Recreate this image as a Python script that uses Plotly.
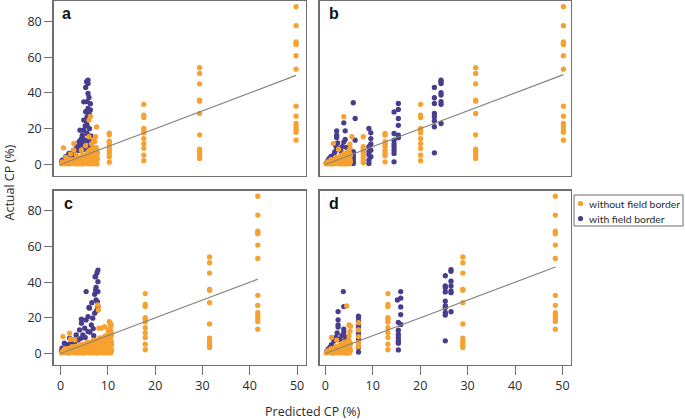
import plotly.graph_objects as go

# ---------------- data ----------------
panels = ["a", "b", "c", "d"]

# Actual CP (%) of the three high-value groups "without field border" (same in every panel)
top_actual = [88.2, 77.6, 68.6, 67.7, 67.1, 60.8, 53.3, 32.6, 27.0, 22.9, 21.1, 19.4, 18.0, 13.6]
mid_actual = [54.1, 50.9, 45.1, 35.9, 35.4, 28.5, 16.6, 8.6, 7.1, 5.8, 4.3, 3.4]
low_actual = [33.6, 27.6, 26.3, 20.1, 19.2, 17.7, 14.5, 11.7, 9.0, 5.2, 2.1]
# Predicted CP (%) of those groups in panels a, b, c, d
top_pred = [49.8, 50.2, 41.7, 48.5]
mid_pred = [29.4, 31.7, 31.5, 29.0]
low_pred = [17.6, 20.1, 17.9, 13.2]

# Remaining points: (predicted, actual)
a_without = [
    (0.2, 0.3), (0.9, 0.4), (1.7, 0.2), (2.4, 0.5), (3.2, 0.3), (4.0, 0.4), (4.7, 0.2), (5.5, 0.5), (6.3, 0.3), (7.0, 0.4), (7.7, 0.3),
    (0.4, 1.5), (1.2, 1.6), (2.0, 1.4), (2.8, 1.7), (3.6, 1.5), (4.4, 1.3), (5.1, 1.6), (5.9, 1.5), (6.7, 1.4), (7.5, 1.7),
    (1.9, 2.8), (2.7, 2.7), (3.5, 2.9), (4.2, 2.8), (5.0, 2.6), (5.8, 2.9), (6.5, 2.8), (7.3, 2.7), (7.8, 3.0),
    (3.6, 4.1), (4.4, 4.0), (5.1, 4.2), (5.9, 4.1), (6.6, 3.9), (7.3, 4.2),
    (4.7, 5.4), (5.5, 5.3), (6.2, 5.5), (7.0, 5.4), (7.7, 5.2),
    (5.7, 6.7), (6.4, 6.6), (7.1, 6.8), (7.8, 6.5),
    (6.2, 8.0), (6.9, 7.9), (7.6, 8.2), (6.8, 9.3), (7.5, 9.4),
    (0.6, 9.3), (2.8, 11.7), (2.8, 8.0), (2.1, 5.8), (1.1, 3.9), (3.3, 5.4), (4.4, 8.0), (5.3, 10.5),
    (6.6, 11.6), (7.2, 12.8), (7.0, 13.8), (6.0, 15.5), (7.4, 15.5), (6.0, 24.8), (6.3, 26.9), (7.6, 21.0),
    (10.3, 17.5), (10.3, 16.6), (10.3, 13.0), (10.3, 12.1), (10.3, 10.8), (10.3, 9.0), (10.3, 7.4),
    (10.3, 6.0), (10.3, 4.3), (10.3, 1.3),
]
a_with = [
    (0.35, 2.4), (0.2, 1.0), (0.6, 1.8), (0.9, 3.0), (1.1, 4.3), (1.4, 3.5), (1.6, 5.2), (1.8, 6.2), (2.1, 4.8),
    (2.4, 6.0), (2.6, 7.0), (2.8, 8.0), (3.1, 6.5), (3.3, 8.8), (3.5, 9.9), (3.7, 7.8), (3.9, 12.7), (4.1, 10.8),
    (4.3, 14.0), (4.6, 15.5), (4.9, 11.7), (4.6, 11.4), (4.1, 19.2), (4.9, 19.2), (4.9, 24.8), (4.6, 16.4),
    (5.2, 21.5), (5.6, 22.0), (5.6, 17.3), (5.3, 13.6), (5.6, 26.7), (5.3, 29.5), (4.9, 35.0), (6.3, 34.0),
    (5.6, 35.1), (5.8, 31.3), (6.0, 37.5), (5.8, 39.7), (5.3, 43.1), (5.8, 45.3), (5.5, 46.3), (5.8, 47.2),
    (6.1, 20.0), (6.0, 13.0), (5.9, 10.0), (6.4, 16.0), (5.0, 8.5), (4.2, 8.0), (3.0, 5.0), (6.3, 30.5),
    (6.1, 28.0), (5.5, 24.0),
]
b_without = [
    (0.2, 0.3), (0.9, 0.4), (1.6, 0.2), (2.3, 0.5), (3.0, 0.3), (3.7, 0.4), (4.4, 0.2), (5.1, 0.4),
    (0.5, 1.5), (1.2, 1.6), (1.9, 1.4), (2.6, 1.7), (3.3, 1.5), (4.0, 1.3), (4.7, 1.6), (5.3, 1.5),
    (1.2, 2.7), (1.9, 2.8), (2.6, 2.6), (3.3, 2.9), (4.0, 2.7), (4.7, 2.8), (5.2, 2.9),
    (2.2, 3.9), (2.9, 4.0), (3.6, 3.8), (4.3, 4.1), (5.0, 3.9),
    (3.2, 5.1), (3.9, 5.2), (4.6, 5.0), (5.3, 5.2), (4.0, 6.3), (4.7, 6.4), (5.2, 6.2), (4.9, 7.5),
    (3.9, 26.7), (5.2, 11.4), (5.2, 9.0), (5.6, 15.5), (1.7, 11.7), (2.8, 8.5),
    (8.0, 15.5), (8.0, 9.9), (8.0, 8.6), (8.0, 7.1), (8.0, 5.8), (8.0, 4.3), (8.0, 2.4), (8.0, 0.9),
    (12.6, 17.3), (12.6, 16.4), (12.6, 12.7), (12.6, 11.4), (12.6, 9.9), (12.6, 8.0), (12.6, 6.2),
    (12.6, 4.9), (12.6, 1.5),
]
b_with = [
    (0.2, 0.8), (0.5, 2.0), (0.8, 3.2), (1.0, 1.5), (1.2, 4.5), (1.5, 3.0), (1.8, 5.5), (2.0, 7.0), (2.4, 8.5),
    (2.4, 15.1), (2.4, 16.4), (2.4, 18.8), (2.2, 10.5), (2.6, 12.0), (3.0, 9.0), (3.3, 7.5), (3.6, 10.0),
    (3.9, 23.3), (4.2, 18.8), (4.2, 14.0), (3.9, 12.5), (4.5, 9.5), (5.9, 34.5), (6.3, 25.7), (6.3, 13.6),
    (5.9, 7.1), (5.9, 5.8), (5.9, 4.3), (5.9, 2.8), (5.9, 1.5), (5.9, 0.6),
    (9.2, 20.1), (9.6, 17.7), (9.6, 14.5), (9.6, 11.5), (9.2, 9.9), (9.6, 8.0), (9.2, 7.1), (9.2, 5.5),
    (9.6, 4.3), (9.2, 2.5), (9.2, 0.6),
    (14.5, 29.4), (15.4, 34.1), (15.4, 30.8), (15.4, 25.7), (15.4, 21.9), (14.5, 17.3), (15.4, 16.4),
    (15.4, 15.0), (14.5, 13.6), (14.5, 11.5), (14.5, 9.9), (14.5, 8.0), (14.5, 6.2), (14.5, 1.5),
    (23.0, 43.1), (23.0, 37.3), (23.0, 34.1), (23.0, 28.5), (23.0, 26.7), (23.0, 24.4), (23.0, 21.1),
    (23.0, 6.5), (24.4, 47.2), (24.4, 46.3), (24.4, 45.3), (24.4, 40.1), (24.4, 38.8), (24.4, 35.1),
    (24.4, 33.6), (24.4, 22.9),
]
c_without = [
    (0.2, 0.3), (0.9, 0.4), (1.7, 0.2), (2.4, 0.5), (3.2, 0.3), (3.9, 0.4), (4.7, 0.2), (5.4, 0.5),
    (6.2, 0.3), (6.9, 0.4), (7.7, 0.2), (8.4, 0.5), (9.2, 0.3), (9.9, 0.4), (10.6, 0.3),
    (0.5, 1.5), (1.2, 1.6), (2.0, 1.4), (2.7, 1.7), (3.5, 1.5), (4.2, 1.3), (5.0, 1.6), (5.7, 1.5),
    (6.5, 1.4), (7.2, 1.7), (8.0, 1.5), (8.7, 1.4), (9.5, 1.6), (10.2, 1.5), (10.8, 1.7),
    (0.9, 2.7), (1.7, 2.8), (2.4, 2.6), (3.2, 2.9), (3.9, 2.7), (4.7, 2.8), (5.4, 2.6), (6.2, 2.9),
    (6.9, 2.7), (7.7, 2.8), (8.4, 2.6), (9.2, 2.9), (9.9, 2.7), (10.6, 2.8),
    (2.4, 3.9), (3.2, 4.0), (3.9, 3.8), (4.7, 4.1), (5.4, 3.9), (6.2, 4.0), (6.9, 3.8), (7.7, 4.1),
    (8.4, 3.9), (9.2, 4.0), (9.9, 3.8), (10.6, 4.1),
    (4.2, 5.1), (5.0, 5.2), (5.7, 5.0), (6.5, 5.2), (7.2, 5.1), (8.0, 5.0), (8.7, 5.2), (9.5, 5.1),
    (10.2, 5.0), (10.8, 5.2),
    (5.7, 6.3), (6.5, 6.4), (7.2, 6.2), (8.0, 6.3), (8.7, 6.4), (9.5, 6.2), (10.2, 6.3), (10.7, 6.5),
    (7.0, 7.5), (7.8, 7.6), (8.5, 7.4), (9.3, 7.5), (10.0, 7.6), (10.6, 7.4),
    (8.3, 8.7), (9.1, 8.8), (9.8, 8.6), (10.5, 8.7), (9.4, 9.9), (10.1, 10.0), (10.7, 9.8),
    (10.2, 11.0), (10.8, 11.1),
    (0.5, 9.5), (1.9, 11.4), (2.1, 8.0), (3.0, 7.6), (10.3, 17.9), (10.7, 16.0), (9.3, 15.1), (10.0, 13.2),
    (8.6, 14.2), (8.1, 14.2), (7.9, 27.2), (8.0, 24.4), (10.5, 14.5), (10.6, 12.5), (10.4, 17.3),
    (10.6, 16.6),
]
c_with = [
    (7.9, 46.8), (7.7, 45.3), (7.3, 43.1), (7.9, 40.3), (7.5, 37.1), (7.9, 34.7), (7.2, 33.2), (5.4, 34.7),
    (7.5, 30.0), (6.1, 25.4), (7.9, 26.3), (7.2, 22.6), (5.8, 20.7), (4.4, 17.0), (6.5, 16.0), (5.1, 14.2),
    (5.8, 12.3), (4.0, 13.2), (3.3, 10.4), (4.7, 10.4), (1.9, 8.6), (0.8, 5.8), (0.3, 3.0), (2.6, 7.6),
    (3.7, 7.6), (6.8, 19.8), (5.4, 18.8), (7.8, 29.0), (7.4, 35.5), (6.9, 14.0), (6.2, 12.0), (7.0, 10.0),
    (5.2, 9.0), (4.3, 8.5), (3.0, 6.5), (1.5, 5.0), (1.0, 3.5), (2.2, 5.8), (7.6, 24.0), (6.6, 28.5),
    (0.2, 1.2), (0.6, 2.2), (4.4, 19.2), (6.0, 25.9), (7.4, 43.1),
]
d_without = [
    (0.2, 0.3), (0.9, 0.4), (1.6, 0.2), (2.3, 0.5), (3.0, 0.3), (3.7, 0.4), (4.4, 0.2), (5.1, 0.4),
    (0.5, 1.5), (1.2, 1.6), (1.9, 1.4), (2.6, 1.7), (3.3, 1.5), (4.0, 1.3), (4.7, 1.6), (5.3, 1.5),
    (1.2, 2.7), (1.9, 2.8), (2.6, 2.6), (3.3, 2.9), (4.0, 2.7), (4.7, 2.8), (5.2, 2.9),
    (2.2, 3.9), (2.9, 4.0), (3.6, 3.8), (4.3, 4.1), (5.0, 3.9),
    (3.2, 5.1), (3.9, 5.2), (4.6, 5.0), (5.3, 5.2), (4.0, 6.3), (4.7, 6.4), (5.2, 6.2), (4.9, 7.5),
    (4.5, 26.7), (5.0, 16.0), (5.3, 15.3), (5.2, 12.5), (5.0, 10.0), (1.3, 9.0), (2.4, 7.5),
    (7.0, 17.3), (7.0, 13.2), (7.0, 9.5), (7.0, 6.2), (7.0, 3.9),
]
d_with = [
    (3.8, 34.7), (3.9, 26.3), (2.7, 23.5), (2.7, 18.9), (2.7, 16.1), (2.7, 14.8), (3.9, 13.6), (3.9, 12.0),
    (3.5, 10.0), (2.2, 9.0), (1.8, 7.0), (1.3, 5.0), (1.0, 3.5), (0.6, 2.5), (0.3, 1.2), (2.5, 11.5),
    (3.0, 8.0), (4.2, 9.5), (1.6, 3.0), (4.0, 7.0),
    (7.0, 20.9), (7.0, 20.0), (7.0, 18.1), (7.0, 16.3), (7.0, 14.4), (7.0, 12.6), (7.0, 10.7), (7.0, 8.3),
    (7.0, 6.1), (7.0, 3.3), (7.0, 0.8),
    (15.9, 34.7), (15.9, 31.0), (15.2, 30.0), (15.9, 26.1), (15.9, 21.8), (15.4, 17.5), (15.9, 16.3),
    (15.4, 13.1), (15.4, 10.7), (15.4, 8.9), (15.4, 7.0), (15.4, 5.8), (15.4, 2.0),
    (25.3, 43.6), (25.3, 37.9), (25.3, 36.9), (25.3, 34.5), (25.3, 29.4), (25.3, 26.8), (25.3, 25.8),
    (25.3, 23.0), (25.3, 21.6), (25.3, 7.1),
    (26.5, 47.0), (26.5, 46.1), (26.5, 40.5), (26.5, 37.9), (26.5, 35.1), (26.5, 34.1), (26.5, 23.4),
]
without_pts = [a_without, b_without, c_without, d_without]
with_pts = [a_with, b_with, c_with, d_with]

# 1:1 line from 0 to the largest predicted value of each panel
line_end = [49.8, 50.2, 41.7, 48.5]

x_ticks = [0, 10, 20, 30, 40, 50]
y_ticks = [0, 20, 40, 60, 80]
series_names = ["without field border", "with field border"]

# ---------------- styling ----------------
W, H = 685, 420
ORANGE = "#F7A12E"
PURPLE = "#473D8C"
LINE = "#8A837C"
BOX = "#6F6F6F"
TXT = "#2B2B2B"
FONT = "Open Sans"
LEG_FONT = "Lato"

# panel boxes in pixels: (left, right, top, bottom)
boxes = [(53.5, 306, 1, 176), (319.5, 571, 1, 176), (53.5, 306, 190.5, 365), (319.5, 571, 190.5, 365)]
x_ranges = [[-1.5, 51.9], [-1.22, 51.8], [-1.5, 51.9], [-1.22, 51.8]]
y_range = [-6.45, 91.4]

fig = go.Figure()

for i, p in enumerate(panels):
    xa = "x" if i == 0 else f"x{i+1}"
    ya = "y" if i == 0 else f"y{i+1}"
    wx = [q[0] for q in with_pts[i]]
    wy = [q[1] for q in with_pts[i]]
    fig.add_trace(go.Scatter(x=wx, y=wy, mode="markers", name=series_names[1], showlegend=False,
                             marker=dict(color=PURPLE, size=5.3, line=dict(width=0)),
                             xaxis=xa, yaxis=ya, hoverinfo="skip"))
    ox = [q[0] for q in without_pts[i]]
    oy = [q[1] for q in without_pts[i]]
    ox += [top_pred[i]] * len(top_actual) + [mid_pred[i]] * len(mid_actual) + [low_pred[i]] * len(low_actual)
    oy += top_actual + mid_actual + low_actual
    fig.add_trace(go.Scatter(x=ox, y=oy, mode="markers", name=series_names[0], showlegend=False,
                             marker=dict(color=ORANGE, size=5.3, line=dict(width=0)),
                             xaxis=xa, yaxis=ya, hoverinfo="skip"))
    fig.add_trace(go.Scatter(x=[0, line_end[i]], y=[0, line_end[i]], mode="lines", showlegend=False,
                             line=dict(color=LINE, width=1.2), xaxis=xa, yaxis=ya, hoverinfo="skip"))

layout = dict(width=W, height=H, margin=dict(l=0, r=0, t=0, b=0),
              paper_bgcolor="white", plot_bgcolor="white", showlegend=False,
              font=dict(family=FONT, size=12, color=TXT))

for i, p in enumerate(panels):
    l, r, t, b = boxes[i]
    xk = "xaxis" if i == 0 else f"xaxis{i+1}"
    yk = "yaxis" if i == 0 else f"yaxis{i+1}"
    xa = "x" if i == 0 else f"x{i+1}"
    ya = "y" if i == 0 else f"y{i+1}"
    show_x = i >= 2
    show_y = i % 2 == 0
    layout[xk] = dict(domain=[l / W, r / W], range=x_ranges[i], anchor=ya,
                      showline=True, mirror=True, linecolor=BOX, linewidth=1.3,
                      showgrid=False, zeroline=False, fixedrange=True,
                      tickmode="array", tickvals=x_ticks,
                      ticks="outside" if show_x else "", ticklen=9, tickcolor=BOX, tickwidth=1,
                      showticklabels=show_x, tickfont=dict(size=12.5, color=TXT, family=FONT))
    layout[yk] = dict(domain=[1 - b / H, 1 - t / H], range=y_range, anchor=xa,
                      showline=True, mirror=True, linecolor=BOX, linewidth=1.3,
                      showgrid=False, zeroline=False, fixedrange=True,
                      tickmode="array", tickvals=y_ticks,
                      ticks="outside" if show_y else "", ticklen=8, tickcolor=BOX, tickwidth=1,
                      showticklabels=show_y, tickfont=dict(size=12.5, color=TXT, family=FONT))

fig.update_layout(**layout)

annotations = []
label_pos = [(60, 14), (327, 14), (62, 203), (327, 203)]
for i, p in enumerate(panels):
    lx, ly = label_pos[i]
    annotations.append(dict(text=f"<b>{p}</b>", x=lx / W, y=1 - ly / H, xref="paper", yref="paper",
                            xanchor="left", yanchor="middle", showarrow=False,
                            font=dict(family="Liberation Sans", size=16, color="#111111")))
annotations.append(dict(text="Predicted CP (%)", x=312.5 / W, y=1 - 411 / H, xref="paper", yref="paper",
                        xanchor="center", yanchor="middle", showarrow=False,
                        font=dict(family=FONT, size=12.5, color=TXT)))
annotations.append(dict(text="Actual CP (%)", x=8.5 / W, y=1 - 183 / H, xref="paper", yref="paper",
                        xanchor="center", yanchor="middle", showarrow=False, textangle=-90,
                        font=dict(family=FONT, size=12.5, color=TXT)))
# legend (drawn by hand to match its compact layout)
leg_rows = [(203.5, ORANGE, series_names[0]), (218.5, PURPLE, series_names[1])]
shapes = [dict(type="rect", xref="paper", yref="paper", x0=574 / W, x1=683 / W, y0=1 - 226 / H, y1=1 - 195 / H,
               line=dict(color=BOX, width=1), fillcolor="white")]
for yy, col, name in leg_rows:
    shapes.append(dict(type="circle", xref="paper", yref="paper", xsizemode="pixel", ysizemode="pixel",
                       xanchor=580.5 / W, yanchor=1 - yy / H, x0=-2.6, x1=2.6, y0=-2.6, y1=2.6,
                       fillcolor=col, line=dict(width=0)))
    annotations.append(dict(text=name, x=587 / W, y=1 - yy / H, xref="paper", yref="paper",
                            xanchor="left", yanchor="middle", showarrow=False,
                            font=dict(family=LEG_FONT, size=10.4, color=TXT)))
fig.update_layout(annotations=annotations, shapes=shapes)

fig.write_html("out.html", config={"displayModeBar": False, "staticPlot": True},
               post_script="document.body.style.margin='0';document.body.style.padding='0';")
